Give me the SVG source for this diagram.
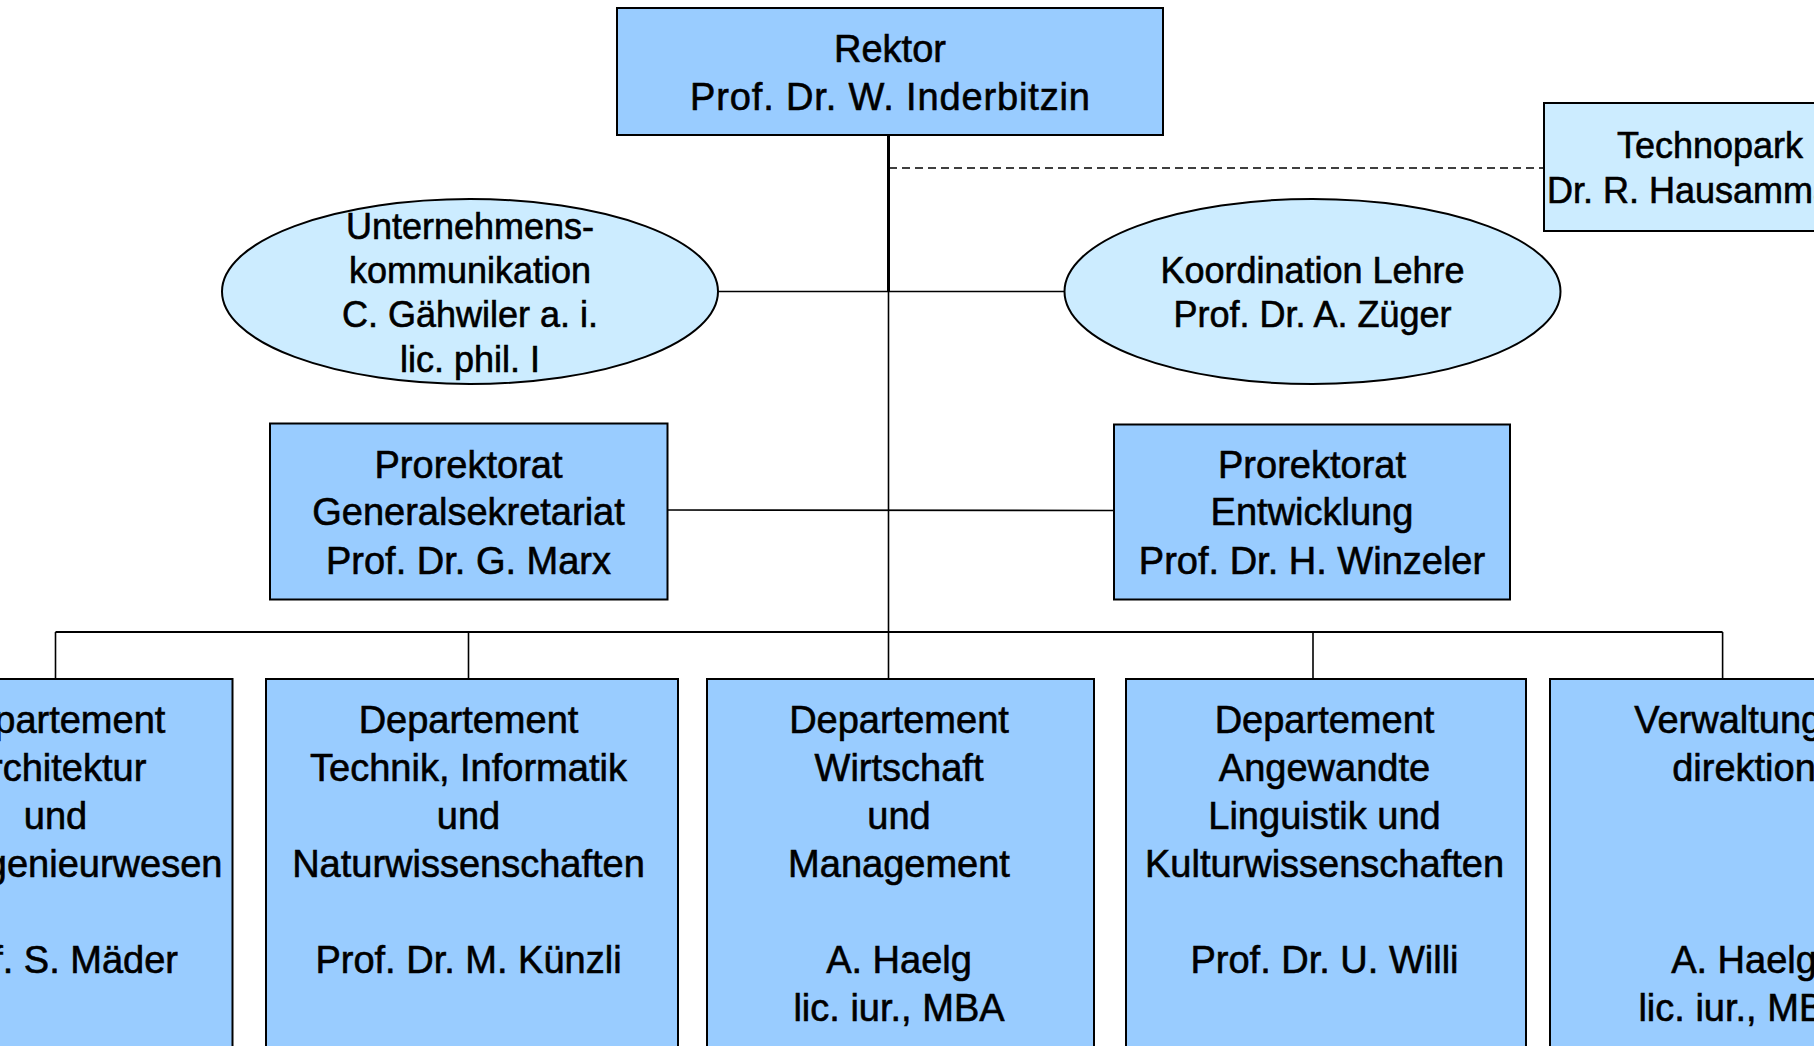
<svg xmlns="http://www.w3.org/2000/svg" width="1814" height="1046" viewBox="0 0 1814 1046">
<style>
.box{fill:#99CCFF;stroke:#000;stroke-width:2}
.lite{fill:#CCECFF;stroke:#000;stroke-width:2}
.ln{stroke:#000;stroke-width:1.6;fill:none}
.thick{stroke:#000;stroke-width:3;fill:none}
.dash{stroke:#000;stroke-width:1.6;stroke-dasharray:8 5;fill:none}
text{font-family:"Liberation Sans",Arial,sans-serif;font-size:38px;fill:#000;stroke:#000;stroke-width:0.6;text-anchor:middle}
.s36{font-size:36px}
</style>
<rect width="1814" height="1046" fill="#fff"/>
<g id="connectors">
<line class="thick" x1="888.5" y1="135" x2="888.5" y2="292"/>
<line class="ln" x1="888.5" y1="292" x2="888.5" y2="632"/>
<line class="dash" x1="889" y1="168" x2="1544" y2="168"/>
<line class="ln" x1="718" y1="291.5" x2="1064" y2="291.5"/>
<line class="ln" x1="667" y1="510" x2="1114" y2="510.5"/>
<line class="ln" x1="55.5" y1="632" x2="1722.6" y2="632" style="stroke-width:2"/>
<line class="ln" x1="55.5" y1="632" x2="55.5" y2="679"/>
<line class="ln" x1="468.5" y1="632" x2="468.5" y2="679"/>
<line class="ln" x1="888.5" y1="632" x2="888.5" y2="679"/>
<line class="ln" x1="1313" y1="632" x2="1313" y2="679"/>
<line class="ln" x1="1722.6" y1="632" x2="1722.6" y2="679"/>
</g>
<g id="rektor">
<rect class="box" x="617" y="8" width="546" height="127"/>
<text x="890" y="62">Rektor</text>
<text x="890" y="110" textLength="400">Prof. Dr. W. Inderbitzin</text>
</g>
<g id="technopark">
<rect class="lite" x="1544" y="103" width="340" height="128"/>
<text class="s36" x="1710" y="158">Technopark</text>
<text class="s36" x="1710" y="203">Dr. R. Hausammann</text>
</g>
<g id="unternehmenskommunikation">
<ellipse class="lite" cx="470" cy="291.5" rx="248" ry="92.5"/>
<text class="s36" x="470" y="238.5">Unternehmens-</text>
<text class="s36" x="470" y="282.5">kommunikation</text>
<text class="s36" x="470" y="326.5">C. Gähwiler a. i.</text>
<text class="s36" x="470" y="371.5">lic. phil. I</text>
</g>
<g id="koordination-lehre">
<ellipse class="lite" cx="1312.5" cy="291.5" rx="248" ry="92.5"/>
<text class="s36" x="1312.5" y="282.5">Koordination Lehre</text>
<text class="s36" x="1312.5" y="326.5">Prof. Dr. A. Züger</text>
</g>
<g id="prorektorat-generalsekretariat">
<rect class="box" x="270" y="423.5" width="397.5" height="176"/>
<text x="468.5" y="477.5">Prorektorat</text>
<text x="468.5" y="525">Generalsekretariat</text>
<text x="468.5" y="573.5">Prof. Dr. G. Marx</text>
</g>
<g id="prorektorat-entwicklung">
<rect class="box" x="1114" y="424.5" width="396" height="175"/>
<text x="1312" y="477.5">Prorektorat</text>
<text x="1312" y="525">Entwicklung</text>
<text x="1312" y="573.5">Prof. Dr. H. Winzeler</text>
</g>
<g id="dep-architektur">
<rect class="box" x="-122" y="679" width="354.5" height="400"/>
<text x="55.5" y="733">Departement</text>
<text x="55.5" y="780.5">Architektur</text>
<text x="55.5" y="829">und</text>
<text x="55.5" y="876.5">Bauingenieurwesen</text>
<text x="55.5" y="972.5">Prof. S. Mäder</text>
</g>
<g id="dep-technik">
<rect class="box" x="266" y="679" width="412" height="400"/>
<text x="468.5" y="733">Departement</text>
<text x="468.5" y="780.5">Technik, Informatik</text>
<text x="468.5" y="829">und</text>
<text x="468.5" y="876.5">Naturwissenschaften</text>
<text x="468.5" y="972.5">Prof. Dr. M. Künzli</text>
</g>
<g id="dep-wirtschaft">
<rect class="box" x="707" y="679" width="387" height="400"/>
<text x="899" y="733">Departement</text>
<text x="899" y="780.5">Wirtschaft</text>
<text x="899" y="829">und</text>
<text x="899" y="876.5">Management</text>
<text x="899" y="972.5">A. Haelg</text>
<text x="899" y="1021">lic. iur., MBA</text>
</g>
<g id="dep-linguistik">
<rect class="box" x="1126" y="679" width="400" height="400"/>
<text x="1324.5" y="733">Departement</text>
<text x="1324.5" y="780.5">Angewandte</text>
<text x="1324.5" y="829">Linguistik und</text>
<text x="1324.5" y="876.5">Kulturwissenschaften</text>
<text x="1324.5" y="972.5">Prof. Dr. U. Willi</text>
</g>
<g id="verwaltungsdirektion">
<rect class="box" x="1550" y="679" width="350" height="400"/>
<text x="1744" y="733">Verwaltungs-</text>
<text x="1744" y="780.5">direktion</text>
<text x="1744" y="972.5">A. Haelg</text>
<text x="1744" y="1021">lic. iur., MBA</text>
</g>
</svg>
